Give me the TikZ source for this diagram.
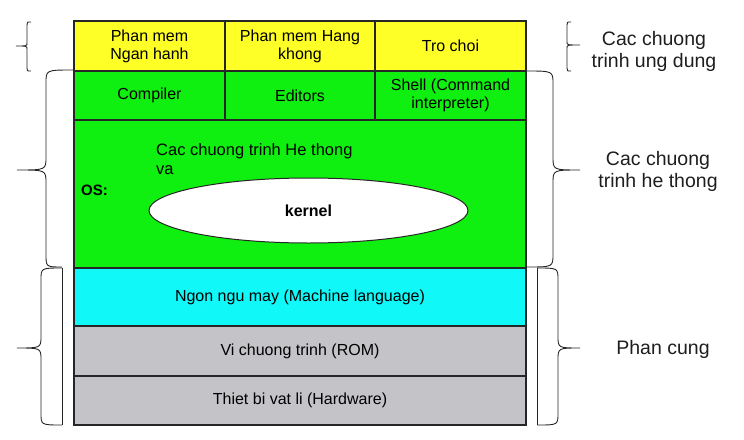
\documentclass[tikz,border=0pt]{standalone}
\usepackage{fontspec}
\setmainfont{Liberation Sans}
\usetikzlibrary{shapes.geometric}
\definecolor{cyel}{RGB}{255,255,40}
\definecolor{cgrn}{RGB}{16,240,16}
\definecolor{ccyn}{RGB}{16,248,248}
\definecolor{cgry}{RGB}{196,196,200}
\definecolor{txt}{RGB}{30,30,30}
\tikzset{
  cell/.style={draw=black!85, line width=1.2pt, inner sep=0pt, align=center,
    font=\fontsize{16}{18}\selectfont, text=black},
  brc/.style={draw=black!85, line width=0.9pt},
  sidelbl/.style={align=center, font=\fontsize{19.5}{22}\selectfont, text=txt}
}
% #1 xtop #2 ytop #3 xv #4 xtip #5 ytip #6 xbot #7 ybot #8 r
\newcommand{\MyBrace}[8]{%
  \draw[brc] (#1,#2) .. controls (#3,#2) .. (#3,#2+#8) -- (#3,#5-#8)
    .. controls (#3,#5) .. (#4,#5) .. controls (#3,#5) .. (#3,#5+#8)
    -- (#3,#7-#8) .. controls (#3,#7) .. (#6,#7);}
\begin{document}
\begin{tikzpicture}[x=1pt,y=-1pt]
\useasboundingbox (0,0) rectangle (744,439);
% top row
\node[cell, fill=cyel, minimum width=151pt, minimum height=50pt] (pm1) at (149.5,46) {Phan mem\\Ngan hanh};
\node[cell, fill=cyel, minimum width=150pt, minimum height=50pt] (pm2) at (300,46) {Phan mem Hang\\khong};
\node[cell, fill=cyel, minimum width=151pt, minimum height=50pt] (tc) at (450.5,46) {Tro choi};
% second row
\node[cell, fill=cgrn, minimum width=151pt, minimum height=49pt] (cmp) at (149.5,95.5) {Compiler};
\node[cell, fill=cgrn, minimum width=150pt, minimum height=49pt] (ed) at (300,95.5) {Editors};
\node[cell, fill=cgrn, minimum width=151pt, minimum height=49pt] (sh) at (450.5,95.5) {Shell (Command\\interpreter)};
% OS
\node[cell, fill=cgrn, minimum width=452pt, minimum height=148pt] (os) at (300,194) {};
\node[anchor=west, font=\fontsize{15}{17}\bfseries\selectfont, inner sep=0pt] (oslbl) at (81,190) {OS:};
\node[anchor=north west, align=left, font=\fontsize{16.5}{19}\selectfont, inner sep=0pt] (htl) at (156,143) {Cac chuong trinh He thong\\va};
\node[ellipse, draw=black!85, line width=1pt, fill=white, minimum width=319pt, minimum height=65pt,
  font=\fontsize{16}{17}\bfseries\selectfont] (kern) at (308.5,210.5) {kernel};
% lower rows
\node[cell, fill=ccyn, minimum width=452pt, minimum height=58pt] (ml) at (300,297) {Ngon ngu may (Machine language)};
\node[cell, fill=cgry, minimum width=452pt, minimum height=50pt] (rom) at (300,351) {Vi chuong trinh (ROM)};
\node[cell, fill=cgry, minimum width=452pt, minimum height=49pt] (hw) at (300,400.5) {Thiet bi vat li (Hardware)};
% left braces
\MyBrace{31}{22}{27}{16}{46}{31}{71}{3}
\MyBrace{73}{70}{46}{17}{170}{62}{267}{13}
\MyBrace{62}{268}{41}{17}{348}{62}{425}{12}
\draw[brc] (62,268) -- (62,425);
% right braces
\MyBrace{571}{22}{567}{580}{45}{571}{71}{3}
\MyBrace{526}{71}{553}{580}{170}{527}{267}{13}
\MyBrace{537}{268}{558}{580}{348}{537}{425}{12}
\draw[brc] (537,268) -- (537,425);
% side labels
\node[sidelbl] (l1) at (654,51) {Cac chuong\\trinh ung dung};
\node[sidelbl] (l2) at (658,171) {Cac chuong\\trinh he thong};
\node[sidelbl] (l3) at (663,349) {Phan cung};
\end{tikzpicture}
\end{document}
